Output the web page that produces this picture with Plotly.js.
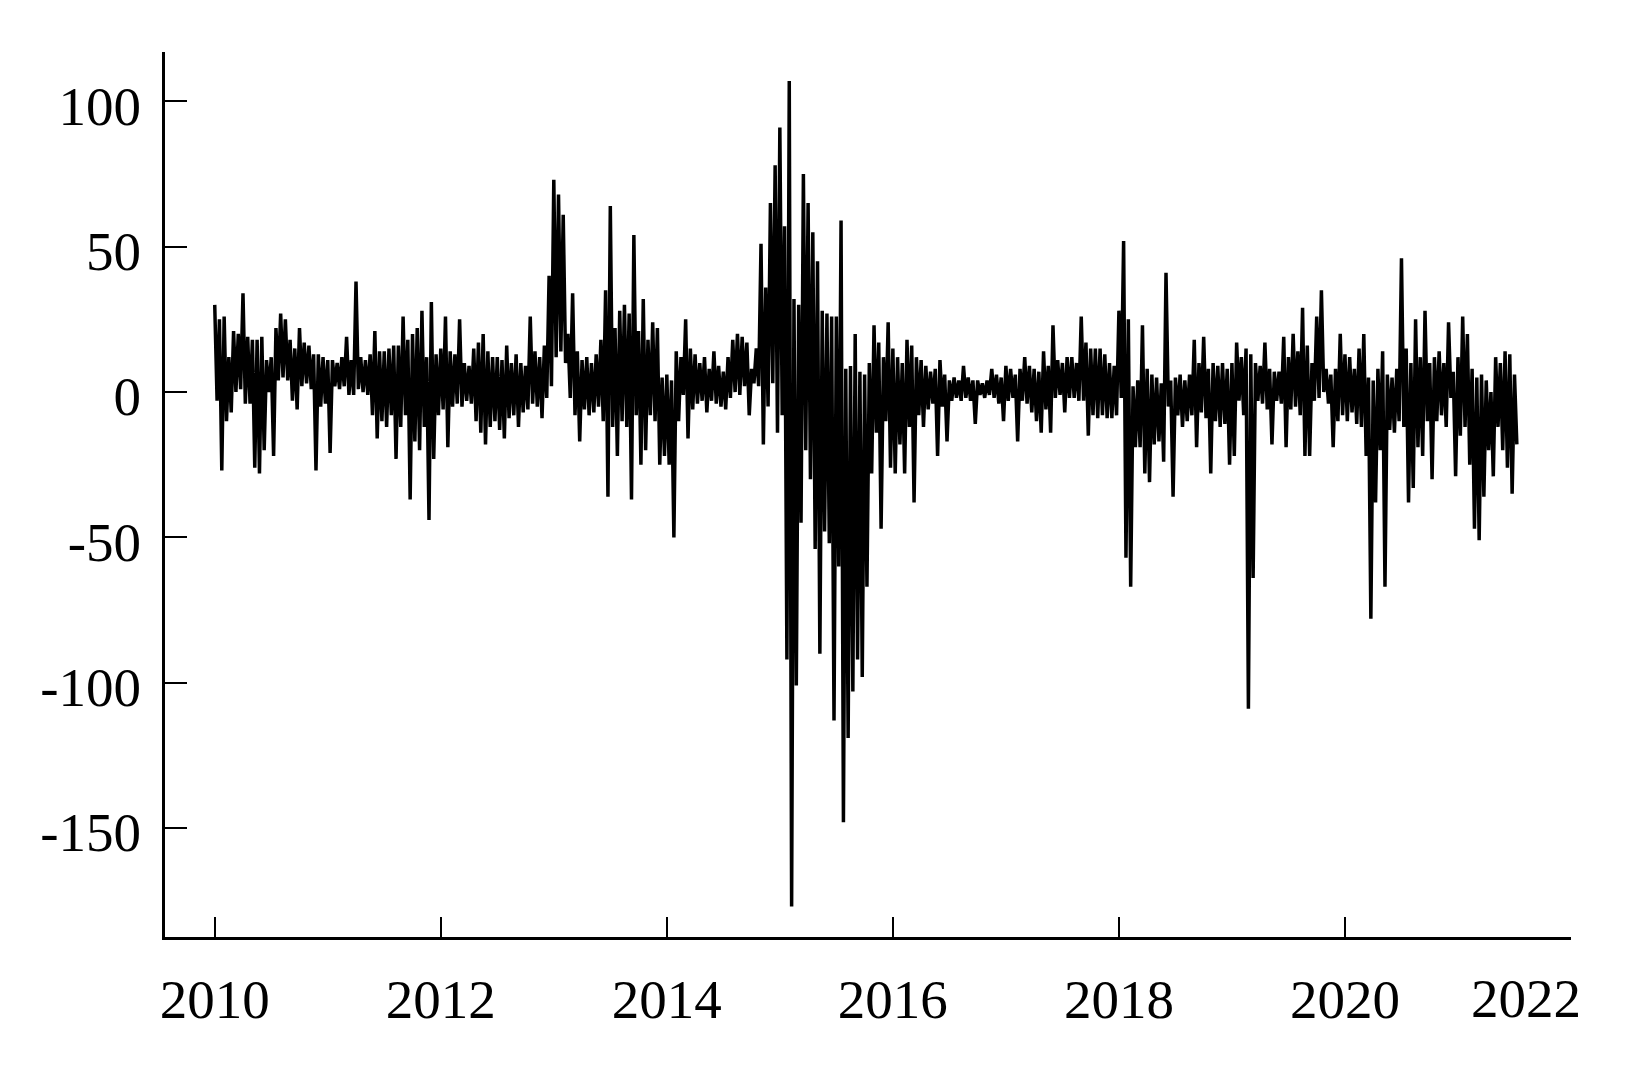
<!DOCTYPE html>
<html>
<head>
<meta charset="utf-8">
<script src="https://cdn.plot.ly/plotly-3.0.1.min.js"></script>
<style>
  html, body { margin: 0; padding: 0; background: #fff; }
  #chart { width: 1637px; height: 1087px; }
</style>
</head>
<body>
<div id="chart"></div>
<script>
// half-month bins from 2010, each bin has a high and a low
var startYear = 2010;
var binsPerYear = 24;

var highs = [
  30, 25, 26, 12, 21, 20, 34, 19, 18, 18,
  19, 11, 12, 22, 27, 25, 18, 15, 22, 17,
  16, 13, 13, 12, 11, 11, 10, 12, 19, 11,
  38, 12, 11, 13, 21, 14, 14, 15, 16, 16,
  26, 18, 20, 22, 28, 12, 31, 13, 15, 26,
  14, 13, 25, 10, 9, 15, 17, 20, 14, 12,
  12, 11, 16, 10, 13, 10, 9, 26, 14, 12,
  16, 40, 73, 68, 61, 20, 34, 14, 11, 12,
  10, 13, 18, 35, 64, 22, 28, 30, 27, 54,
  21, 32, 18, 24, 22, 5, 6, 4, 14, 12,
  25, 15, 13, 10, 12, 8, 14, 9, 7, 12,
  18, 20, 19, 17, 8, 15, 51, 36, 65, 78,
  91, 57, 107, 32, 30, 75, 65, 55, 45, 28,
  27, 26, 26, 59, 8, 9, 20, 7, 6, 10,
  23, 17, 12, 24, 15, 12, 10, 18, 16, 12,
  11, 9, 7, 8, 11, 6, 4, 5, 4, 9,
  5, 4, 4, 3, 4, 8, 6, 5, 9, 8,
  6, 8, 12, 9, 8, 7, 14, 9, 23, 11,
  10, 12, 12, 10, 26, 17, 15, 15, 15, 13,
  10, 9, 28, 52, 25, 2, 4, 23, 8, 6,
  5, 3, 41, 4, 5, 6, 4, 6, 18, 10,
  19, 8, 10, 9, 10, 8, 10, 17, 12, 15,
  13, 10, 9, 17, 8, 7, 7, 19, 12, 20,
  14, 29, 16, 10, 26, 35, 8, 6, 8, 20,
  13, 12, 8, 15, 20, 5, 4, 8, 14, 6,
  5, 8, 46, 15, 10, 25, 12, 28, 10, 12,
  14, 10, 24, 7, 12, 26, 20, 8, 5, 6,
  4, 0, 12, 10, 14, 13, 6
];

var lows = [
  -3, -27, -10, -7, 0, 1, -4, -4, -26, -28,
  -20, 0, -22, 4, 5, 4, -3, -6, 2, 3,
  1, -27, -5, -4, -21, 2, 1, 2, -1, -1,
  1, 0, -1, -8, -16, -10, -12, -8, -23, -12,
  -8, -37, -17, -20, -12, -44, -23, -8, -6, -19,
  -5, -4, -5, -3, -4, -10, -14, -18, -12, -10,
  -13, -16, -9, -8, -12, -7, -6, -4, -5, -9,
  -2, 2, 12, 14, 10, -2, -8, -17, -6, -8,
  -7, -5, -10, -36, -12, -22, -10, -12, -37, -8,
  -25, -20, -8, -10, -25, -22, -25, -50, -10, -1,
  -16, -6, -4, -3, -7, -3, -4, -5, -6, -2,
  0, -1, 2, -8, 3, 2, -18, -5, 3, -14,
  -8, -92, -177, -101, -45, -20, -30, -54, -90, -48,
  -52, -113, -60, -148, -119, -103, -92, -98, -67, -28,
  -14, -47, -10, -26, -28, -18, -28, -12, -38, -8,
  -12, -6, -4, -22, -5, -17, -3, -2, -3, -2,
  -3, -11, -1, -2, -1, -2, -4, -10, -3, -2,
  -17, -3, -4, -7, -10, -14, -6, -14, -2, -1,
  -7, -2, -2, -3, -3, -15, -8, -9, -8, -9,
  -9, -8, -2, -57, -67, -19, -19, -28, -31, -18,
  -17, -24, -5, -36, -8, -12, -10, -8, -19, -7,
  -9, -28, -10, -12, -11, -25, -22, -3, -8, -109,
  -64, -3, -4, -6, -18, -3, -4, -19, -6, -5,
  -8, -22, -22, -3, -2, 0, -4, -19, -10, -8,
  -10, -7, -11, -12, -22, -78, -38, -20, -67, -13,
  -14, -10, -12, -38, -33, -19, -22, -10, -30, -10,
  -8, -12, -2, -29, -15, -12, -25, -47, -51, -36,
  -20, -29, -12, -20, -26, -35, -18
];

var xTickVals = [2010, 2012, 2014, 2016, 2018, 2020, 2022];
var xTickText = ['2010', '2012', '2014', '2016', '2018', '2020', ''];
var lastYearLabel = '2022';
var yTickVals = [-150, -100, -50, 0, 50, 100, 117];
var yTickText = ['-150', '-100', '-50', '0', '50', '100', ''];

var xs = [], ys = [];
for (var i = 0; i < highs.length; i++) {
  xs.push(startYear + i / binsPerYear);
  ys.push(highs[i]);
  xs.push(startYear + (i + 0.5) / binsPerYear);
  ys.push(lows[i]);
}

var trace = {
  type: 'scatter',
  mode: 'lines',
  x: xs, y: ys,
  line: { color: '#000', width: 3.5 },
  hoverinfo: 'skip'
};

var serif = '"Liberation Serif", "Times New Roman", serif';

var layout = {
  width: 1637,
  height: 1087,
  margin: { l: 165, r: 66, t: 52, b: 150 },
  paper_bgcolor: '#fff',
  plot_bgcolor: '#fff',
  showlegend: false,
  font: { family: serif, size: 55, color: '#000' },
  xaxis: {
    range: [2009.56, 2022],
    tickmode: 'array',
    tickvals: xTickVals,
    ticktext: xTickText,
    ticks: 'inside',
    ticklen: 20,
    tickwidth: 2,
    tickcolor: '#000',
    showline: true,
    linewidth: 3,
    linecolor: '#000',
    showgrid: false,
    zeroline: false,
    ticklabelstandoff: 12
  },
  yaxis: {
    range: [-187.5, 117],
    tickmode: 'array',
    tickvals: yTickVals,
    ticktext: yTickText,
    ticks: 'inside',
    ticklen: 22,
    tickwidth: 2,
    tickcolor: '#000',
    showline: true,
    linewidth: 3,
    linecolor: '#000',
    showgrid: false,
    zeroline: false,
    ticklabelstandoff: 10,
    ticklabelshift: 4
  },
  annotations: [{
    x: 2022, xref: 'x',
    y: 0, yref: 'paper',
    text: lastYearLabel,
    showarrow: false,
    xanchor: 'right',
    yanchor: 'top',
    xshift: 12,
    yshift: -29,
    font: { family: serif, size: 55, color: '#000' }
  }]
};

Plotly.newPlot('chart', [trace], layout, { displayModeBar: false, staticPlot: true });
</script>
</body>
</html>
